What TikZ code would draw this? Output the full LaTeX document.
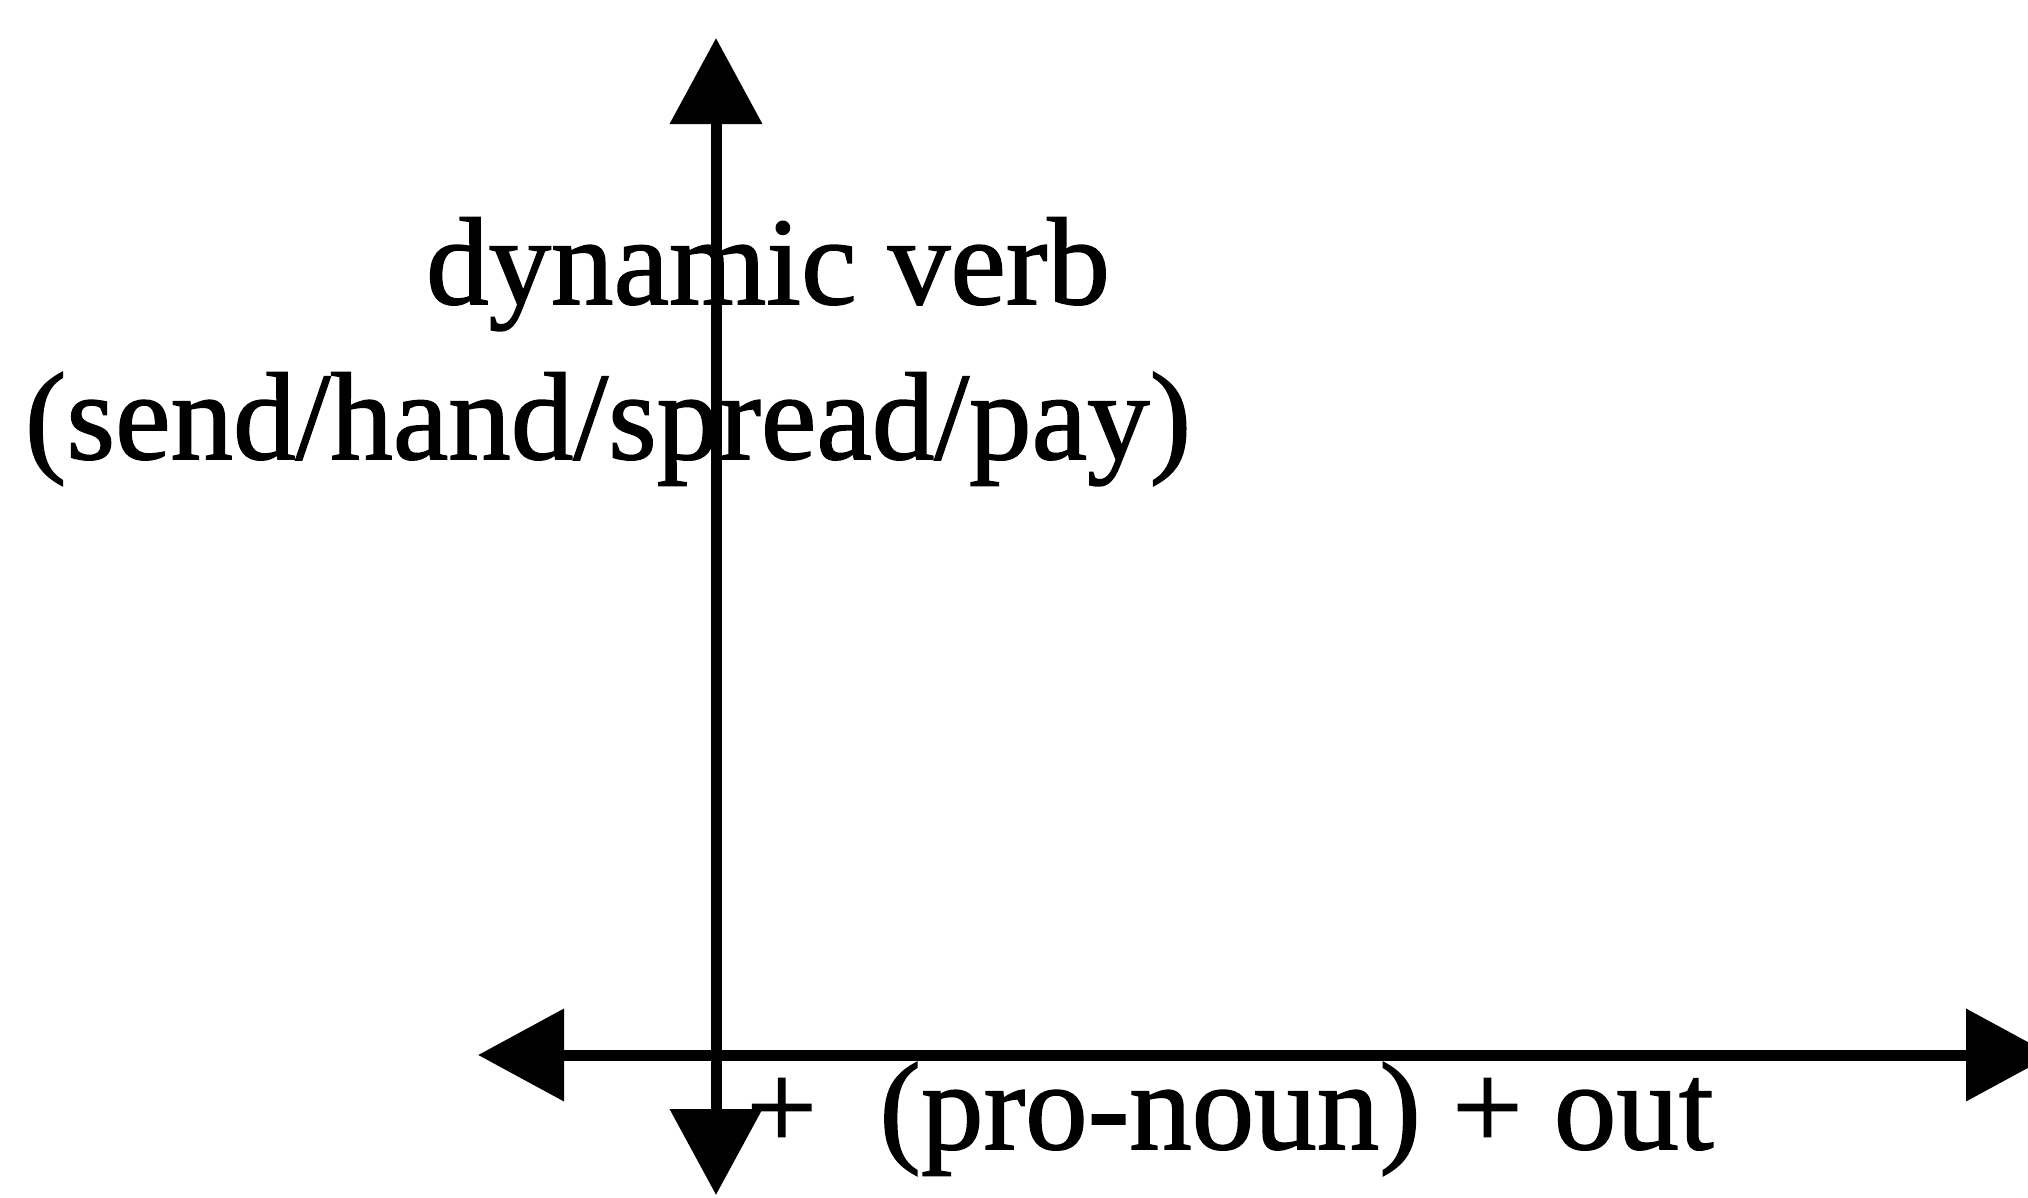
\documentclass[tikz,border=0pt]{standalone}
\usepackage{fontspec}
\setmainfont{Liberation Serif}
\newfontfamily\heavyserif[FakeBold=1.2]{Liberation Serif}
\usetikzlibrary{arrows.meta}
\begin{document}
\begin{tikzpicture}[x=1pt,y=-1pt,
  axis/.style={line width=11pt,{Triangle[length=86pt,width=90pt]}-{Triangle[length=86pt,width=90pt]}},
  lbl/.style={inner sep=0pt,anchor=base,font=\heavyserif\fontsize{125}{150}\selectfont}]
\useasboundingbox (0,0) rectangle (2028,1197);
\clip (0,0) rectangle (2028,1197);
\coordinate (vtop) at (716,38);
\coordinate (vbot) at (716,1195);
\coordinate (hleft) at (478,1055);
\coordinate (hright) at (2052,1055);
\draw[axis] (vbot) -- (vtop);
\draw[axis] (hleft) -- (hright);
\node[lbl] (dyn) at (768,304) {dynamic verb};
\node[lbl] (verbs) at (608,459) {(send/hand/spread/pay)};
\node[lbl] (pron) at (1230,1149) {+\ \ (pro-noun) + out};
\end{tikzpicture}
\end{document}
